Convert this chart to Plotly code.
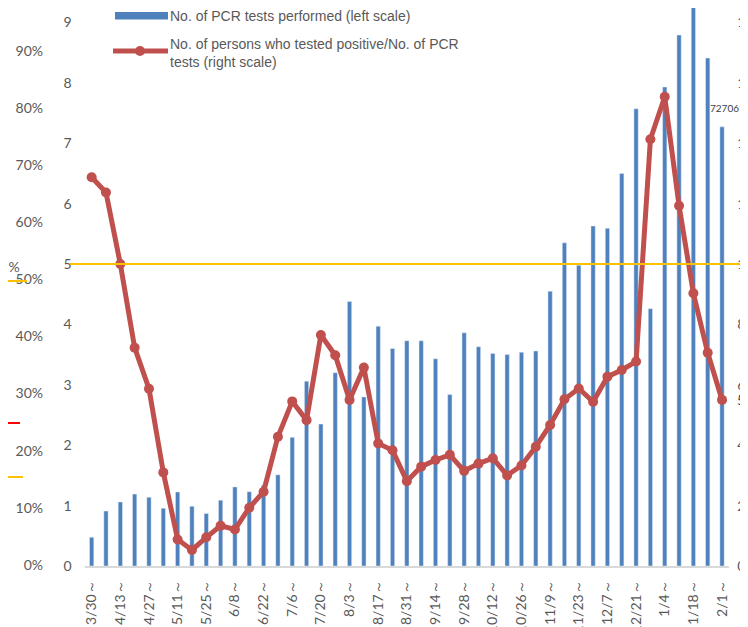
import plotly.graph_objects as go

# semanas (lunes de inicio)
weeks = ["3/30～", "4/6～", "4/13～", "4/20～", "4/27～", "5/4～", "5/11～", "5/18～", "5/25～",
         "6/1～", "6/8～", "6/15～", "6/22～", "6/29～", "7/6～", "7/13～", "7/20～", "7/27～",
         "8/3～", "8/10～", "8/17～", "8/24～", "8/31～", "9/7～", "9/14～", "9/21～", "9/28～",
         "10/5～", "10/12～", "10/19～", "10/26～", "11/2～", "11/9～", "11/16～", "11/23～",
         "11/30～", "12/7～", "12/14～", "12/21～", "12/28～", "1/4～", "1/11～", "1/18～",
         "1/25～", "2/1～"]

# tests PCR (en decenas de miles, escala izquierda)
tests = [0.475, 0.91, 1.06, 1.19, 1.14, 0.955, 1.225, 0.99, 0.87, 1.09, 1.31, 1.23, 1.34,
         1.51, 2.13, 3.06, 2.35, 3.20, 4.38, 2.80, 3.97, 3.60, 3.73, 3.73, 3.43, 2.84, 3.86,
         3.63, 3.52, 3.50, 3.54, 3.56, 4.55, 5.35, 4.98, 5.63, 5.59, 6.50, 7.57, 4.26, 7.93,
         8.79, 9.28, 8.41, 7.2706]

# positivos / tests (%, escala derecha)
positivity = [12.87, 12.37, 10.0, 7.23, 5.87, 3.10, 0.88, 0.53, 0.95, 1.33, 1.21, 1.93, 2.46,
              4.28, 5.45, 4.83, 7.65, 6.98, 5.50, 6.57, 4.06, 3.83, 2.81, 3.29, 3.51, 3.68,
              3.15, 3.39, 3.57, 3.00, 3.33, 3.95, 4.67, 5.52, 5.88, 5.44, 6.27, 6.49, 6.77,
              14.13, 15.54, 11.93, 9.03, 7.06, 5.50]

threshold = 10  # linea amarilla (escala derecha)
last_label = "72706"
last_rate_label = "5.5%"

# la pagina tiene 8px de margen en el body
OFF = 8
W, H = 740, 619
BASE = 566          # y del eje x en la ventana
PH = BASE - OFF     # alto del area de trazado
BOTTOM = H - PH


def px(x):
    return (x - OFF) / W


def py(y):
    return (BASE - y) / PH


grey = "#595959"
tickfont = dict(family="Lato", size=14, color=grey)

fig = go.Figure()
fig.add_trace(go.Bar(x=weeks, y=tests, marker_color="#4F81BD", width=0.3,
                     name="No. of PCR tests performed (left scale)"))
fig.add_trace(go.Scatter(x=weeks, y=positivity, yaxis="y2", mode="lines+markers",
                         line=dict(color="#C0504D", width=5),
                         marker=dict(size=10, color="#C0504D"),
                         name="No. of persons who tested positive/No. of PCR tests (right scale)"))
# eje de porcentajes de fondo (otro grafico)
fig.add_trace(go.Scatter(x=[weeks[0]], y=[None], yaxis="y3", showlegend=False,
                         hoverinfo="skip"))

fig.update_layout(
    width=W, height=H,
    margin=dict(l=0, r=0, t=0, b=BOTTOM),
    paper_bgcolor="white", plot_bgcolor="white",
    showlegend=False,
    xaxis=dict(domain=[px(84.5), px(729.2)], type="category", range=[-0.5, 44.5],
               tickvals=weeks[::2], ticktext=weeks[::2], tickangle=-90,
               tickfont=dict(family="Lato", size=14, color=grey),
               showline=True, linecolor="#D9D9D9", linewidth=1.5,
               ticks="", showgrid=False, ticklabelstandoff=7, automargin=False),
    yaxis=dict(range=[0, PH / 60.4], tickvals=list(range(10)), showgrid=False,
               zeroline=False, tickfont=tickfont, ticks="", ticklabelstandoff=12,
               automargin=False),
    yaxis2=dict(range=[0, PH / 30.2], overlaying="y", side="right", anchor="x",
                tickvals=list(range(0, 20, 2)), ticksuffix="%", showgrid=False,
                zeroline=False, tickfont=tickfont, ticks="", ticklabelstandoff=7,
                automargin=False),
    yaxis3=dict(range=[-1 / 573.5, (567 - OFF) / 573.5], overlaying="y", side="left",
                anchor="free", position=px(43), tickvals=[i / 10 for i in range(10)],
                tickformat=".0%", showgrid=False, zeroline=False, tickfont=tickfont,
                ticks="", automargin=False),
)

shapes = [
    # linea umbral
    dict(type="line", xref="paper", yref="y2", x0=px(70), x1=1, y0=threshold, y1=threshold,
         line=dict(color="#FFC000", width=2), layer="above"),
    # restos del otro grafico
    dict(type="line", xref="paper", yref="paper", x0=px(8), x1=px(27), y0=py(281), y1=py(281),
         line=dict(color="#FFC000", width=2)),
    dict(type="line", xref="paper", yref="paper", x0=0, x1=px(20), y0=py(423), y1=py(423),
         line=dict(color="#FF0000", width=2)),
    dict(type="line", xref="paper", yref="paper", x0=0, x1=px(23), y0=py(477), y1=py(477),
         line=dict(color="#FFC000", width=2)),
    # leyenda
    dict(type="rect", xref="paper", yref="paper", x0=px(115), x1=px(168), y0=py(19.5), y1=py(12),
         fillcolor="#4F81BD", line=dict(width=0)),
    dict(type="line", xref="paper", yref="paper", x0=px(113), x1=px(168), y0=py(51), y1=py(51),
         line=dict(color="#C0504D", width=5)),
    dict(type="circle", xref="paper", yref="paper", x0=px(135), x1=px(145),
         y0=py(56), y1=py(46), fillcolor="#C0504D", line=dict(width=0)),
]
fig.update_layout(shapes=shapes)

legfont = dict(family="Liberation Sans", size=14, color=grey)
fig.add_annotation(xref="paper", yref="paper", x=px(168), y=py(16), xanchor="left",
                   yanchor="middle", showarrow=False, font=legfont,
                   text="No. of PCR tests performed (left scale)")
fig.add_annotation(xref="paper", yref="paper", x=px(168), y=py(53), xanchor="left",
                   yanchor="middle", showarrow=False, font=legfont, align="left",
                   text="No. of persons who tested positive/No. of PCR<br>tests (right scale)")
fig.add_annotation(xref="x", yref="y", x=weeks[-1], y=tests[-1], xshift=2, yshift=19,
                   showarrow=False, text=last_label,
                   font=dict(family="Lato", size=10, color="#404040"))
fig.add_annotation(xref="paper", yref="y2", x=px(735), y=positivity[-1], xanchor="left",
                   showarrow=False, text=last_rate_label,
                   font=dict(family="Lato", size=14, color="#404040"))
fig.add_annotation(xref="paper", yref="paper", x=px(22), y=py(266), xanchor="right",
                   showarrow=False, text=".9%", font=tickfont)

fig.write_html("out.html")
